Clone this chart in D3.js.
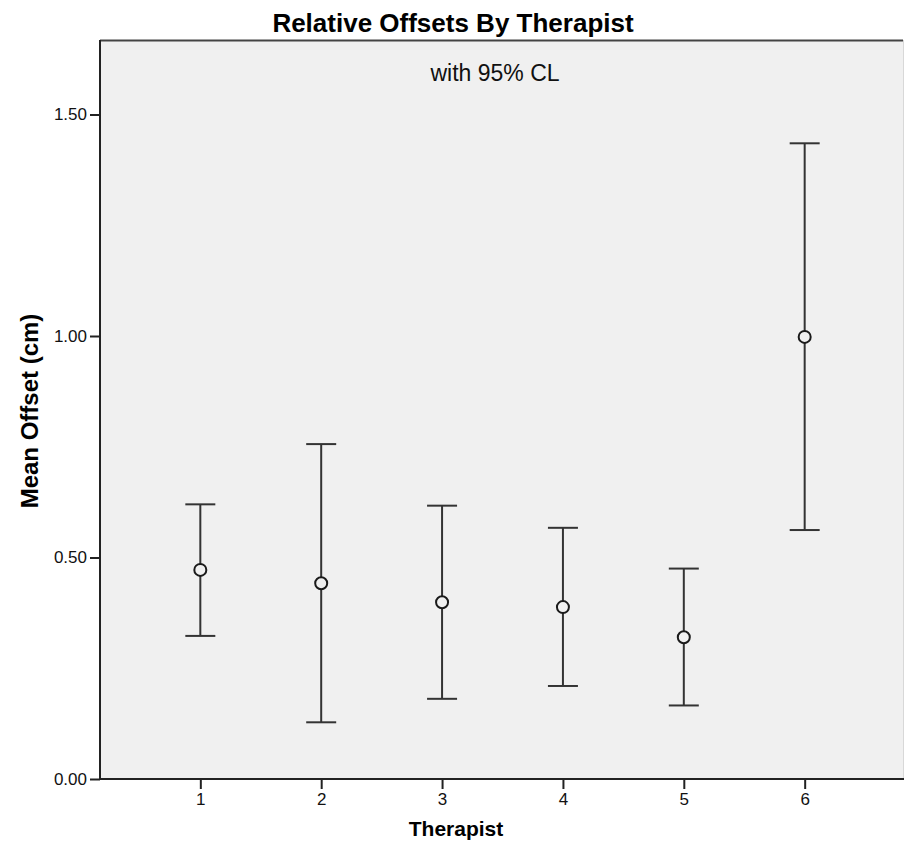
<!DOCTYPE html>
<html>
<head>
<meta charset="utf-8">
<script src="https://cdn.jsdelivr.net/npm/d3@7/dist/d3.min.js"></script>
<style>
html,body{margin:0;padding:0;background:#fff;}
svg{display:block;font-family:"Liberation Sans",Arial,sans-serif;}
</style>
</head>
<body>
<svg id="chart" width="904" height="843"></svg>
<script>
const therapists = ["1","2","3","4","5","6"];
const means = [0.472, 0.442, 0.399, 0.388, 0.320, 0.998];
const upper = [0.620, 0.756, 0.617, 0.567, 0.475, 1.435];
const lower = [0.323, 0.128, 0.181, 0.210, 0.166, 0.562];
const yTicks = [0.00, 0.50, 1.00, 1.50];

const svg = d3.select("#chart");
const L = 100, R = 903, T = 40, B = 779;

const x = d3.scalePoint().domain(therapists).range([L, 905]).padding(0.83);
const y = d3.scaleLinear().domain([0, 1.5]).range([B, B - 664.5]);

// plot background
svg.append("rect").attr("x", L).attr("y", T).attr("width", R - L).attr("height", B - T)
  .attr("fill", "#f0f0f0");
// top border & right border
svg.append("line").attr("x1", L).attr("x2", R).attr("y1", T + 0.5).attr("y2", T + 0.5)
  .attr("stroke", "#444").attr("stroke-width", 2);
svg.append("line").attr("x1", R + 0.5).attr("x2", R + 0.5).attr("y1", T).attr("y2", B)
  .attr("stroke", "#d8d8d8").attr("stroke-width", 1);

// axes
const yAxis = d3.axisLeft(y).tickValues(yTicks).tickFormat(d3.format(".2f")).tickSize(10).tickPadding(3);
const gy = svg.append("g").attr("transform", `translate(${L},0)`).call(yAxis);
const xAxis = d3.axisBottom(x).tickSize(10).tickPadding(4);
const gx = svg.append("g").attr("transform", `translate(0,${B})`).call(xAxis);

[gy, gx].forEach(g => {
  g.select(".domain").remove();
  g.selectAll(".tick line").attr("stroke", "#222").attr("stroke-width", 2);
  g.selectAll(".tick text").attr("fill", "#111").style("font-size", "17px")
    .style("font-family", "'Liberation Sans',Arial,sans-serif");
});

// axis lines
svg.append("line").attr("x1", L).attr("x2", L).attr("y1", T).attr("y2", B + 1)
  .attr("stroke", "#222").attr("stroke-width", 2);
svg.append("line").attr("x1", L).attr("x2", R + 1).attr("y1", B).attr("y2", B)
  .attr("stroke", "#222").attr("stroke-width", 2);

// error bars
const data = therapists.map((t, i) => ({t, m: means[i], hi: upper[i], lo: lower[i]}));
const cap = 15;
const g = svg.append("g");
data.forEach(d => {
  const cx = x(d.t);
  g.append("line").attr("x1", cx).attr("x2", cx).attr("y1", y(d.hi)).attr("y2", y(d.lo))
    .attr("stroke", "#333").attr("stroke-width", 2);
  g.append("line").attr("x1", cx - cap).attr("x2", cx + cap).attr("y1", y(d.hi)).attr("y2", y(d.hi))
    .attr("stroke", "#333").attr("stroke-width", 2);
  g.append("line").attr("x1", cx - cap).attr("x2", cx + cap).attr("y1", y(d.lo)).attr("y2", y(d.lo))
    .attr("stroke", "#333").attr("stroke-width", 2);
  g.append("circle").attr("cx", cx).attr("cy", y(d.m)).attr("r", 6)
    .attr("fill", "#f0f0f0").attr("stroke", "#1a1a1a").attr("stroke-width", 2);
});

// texts
svg.append("text").attr("x", 453).attr("y", 32).attr("text-anchor", "middle")
  .style("font-size", "26px").style("font-weight", "bold").attr("fill", "#000")
  .text("Relative Offsets By Therapist");
svg.append("text").attr("x", 495).attr("y", 81).attr("text-anchor", "middle")
  .style("font-size", "23px").attr("fill", "#111").text("with 95% CL");
svg.append("text").attr("transform", "translate(38,411) rotate(-90)").attr("text-anchor", "middle")
  .style("font-size", "24px").style("font-weight", "bold").attr("fill", "#000")
  .text("Mean Offset (cm)");
svg.append("text").attr("x", 456).attr("y", 836).attr("text-anchor", "middle")
  .style("font-size", "21px").style("font-weight", "bold").attr("fill", "#000")
  .text("Therapist");
</script>
</body>
</html>
